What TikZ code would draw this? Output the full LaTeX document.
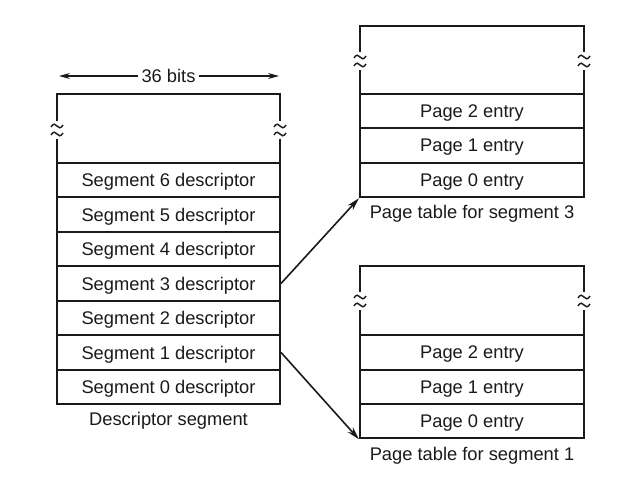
\documentclass[tikz,border=0pt]{standalone}
\usepackage{fontspec}
\setmainfont{Liberation Sans}
\usetikzlibrary{arrows.meta}
\definecolor{ink}{HTML}{1A1A1A}
\begin{document}
\begin{tikzpicture}[x=1pt,y=-1pt,
  every node/.style={text=ink,font=\fontsize{18.3}{20}\selectfont},
  cell/.style={draw=ink,line width=2pt,minimum height=34.4pt,inner sep=0pt,text depth=0pt},
  lcell/.style={cell,minimum width=223pt},
  rcell/.style={cell,minimum width=224pt},
  lbl/.style={inner sep=0pt},
  conn/.style={draw=ink,line width=1.6pt,-{Stealth[length=13pt,width=7pt]}},
  brk/.pic={
    \fill[white] (-3,-9) rectangle (3,9);
    \draw[ink,line width=1.4pt] (-6,-3) .. controls (-4,-7) and (-1,-6) .. (0,-4) .. controls (1,-2) and (4,-1) .. (6,-5);
    \draw[ink,line width=1.4pt] (-6,5) .. controls (-4,1) and (-1,2) .. (0,4) .. controls (1,6) and (4,7) .. (6,3);
  }]
\useasboundingbox (0,0) rectangle (640,477);
\fill[white] (0,0) rectangle (640,477);

% descriptor segment
\node[lcell,minimum height=69pt] (topL) at (168.5,128.5) {};
\node[lcell] (s6) at (168.5,180.2) {Segment 6 descriptor};
\node[lcell] (s5) at (168.5,214.6) {Segment 5 descriptor};
\node[lcell] (s4) at (168.5,249.1) {Segment 4 descriptor};
\node[lcell] (s3) at (168.5,283.5) {Segment 3 descriptor};
\node[lcell] (s2) at (168.5,317.9) {Segment 2 descriptor};
\node[lcell] (s1) at (168.5,352.4) {Segment 1 descriptor};
\node[lcell] (s0) at (168.5,386.8) {Segment 0 descriptor};
\node[lbl] (dlab) at (168.5,421) {Descriptor segment};
\pic at (57,130) {brk};
\pic at (280,130) {brk};

% 36 bits
\node[lbl,fill=white,inner xsep=3pt] (bits) at (168.5,76) {36 bits};
\coordinate (bl) at (59,76);
\coordinate (br) at (279,76);
\draw[ink,line width=1.2pt,-{Stealth[length=11pt,width=6pt]}] (bits.west) -- (bl);
\draw[ink,line width=1.2pt,-{Stealth[length=11pt,width=6pt]}] (bits.east) -- (br);

% page table for segment 3
\node[rcell,minimum height=68pt] (topA) at (472,60) {};
\node[rcell] (a2) at (472,111.2) {Page 2 entry};
\node[rcell] (a1) at (472,145.6) {Page 1 entry};
\node[rcell] (a0) at (472,180) {Page 0 entry};
\node[lbl] (alab) at (472,214) {Page table for segment 3};
\pic at (360,61) {brk};
\pic at (584,61) {brk};

% page table for segment 1
\node[rcell,minimum height=69pt] (topB) at (472,300.5) {};
\node[rcell] (b2) at (472,352.3) {Page 2 entry};
\node[rcell] (b1) at (472,386.8) {Page 1 entry};
\node[rcell] (b0) at (472,421.2) {Page 0 entry};
\node[lbl] (blab) at (472,456) {Page table for segment 1};
\pic at (360,301) {brk};
\pic at (584,301) {brk};

% connectors
\draw[conn] (s3.east) -- (a0.south west);
\draw[conn] (s1.east) -- (b0.south west);
\end{tikzpicture}
\end{document}
